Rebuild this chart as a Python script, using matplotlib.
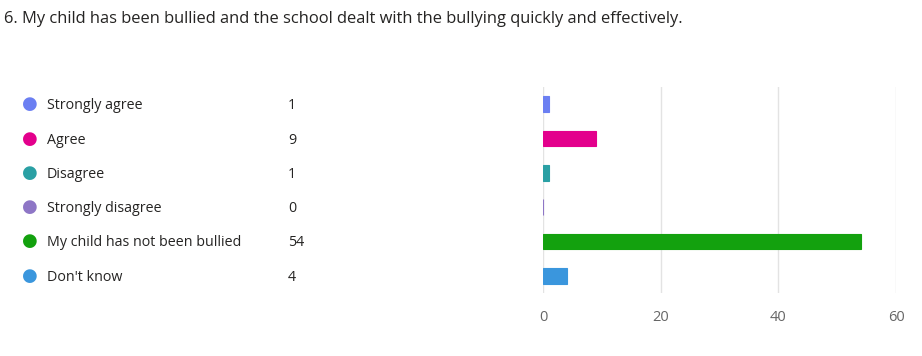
import matplotlib.pyplot as plt

plt.rcParams['font.family'] = ['Open Sans', 'DejaVu Sans']

# Survey answers and counts
title = "6. My child has been bullied and the school dealt with the bullying quickly and effectively."
answers = ["Strongly agree", "Agree", "Disagree", "Strongly disagree",
           "My child has not been bullied", "Don't know"]
counts = [1, 9, 1, 0, 54, 4]
colors = ["#6B7FF2", "#E3008C", "#2AA0A4", "#8E76C6", "#13A10E", "#3A96DD"]
xticks = [0, 20, 40, 60]

W, H = 922, 356
fig = plt.figure(figsize=(W / 100, H / 100), dpi=100)

fig.text(4 / W, 1 - 19 / H, title, fontsize=11.9, color="#252423", va="center", ha="left")

# bar area
ax = fig.add_axes([543 / W, 1 - 293 / H, (896 - 543) / W, (293 - 87) / H])
ypos = list(range(len(answers)))
ax.barh(ypos, counts, height=0.46, color=colors, edgecolor=colors, linewidth=0.8, zorder=3)
ax.set_xlim(0, 60)
ax.set_ylim(len(answers) - 0.5, -0.5)
ax.set_xticks(xticks)
ax.set_yticks([])
ax.grid(axis="x", color="#e3e3e3", linewidth=1, zorder=0)
for s in ax.spines.values():
    s.set_visible(False)
ax.tick_params(axis="x", length=0, pad=12, labelsize=10.5, labelcolor="#666666")

# legend table on the left, lined up with the bars
for i, (a, c, col) in enumerate(zip(answers, counts, colors)):
    yf = ax.transData.transform((0, i))[1] / H
    fig.text(30 / W, yf, "\u25CF", color=col, fontsize=13, ha="center", va="center")
    fig.text(47 / W, yf - 1.5 / H, a, fontsize=10.3, color="#252423", ha="left", va="center")
    fig.text(288 / W, yf - 1.5 / H, str(c), fontsize=10.3, color="#252423", ha="left", va="center")

fig.savefig("out.png", dpi=100, facecolor="white")
